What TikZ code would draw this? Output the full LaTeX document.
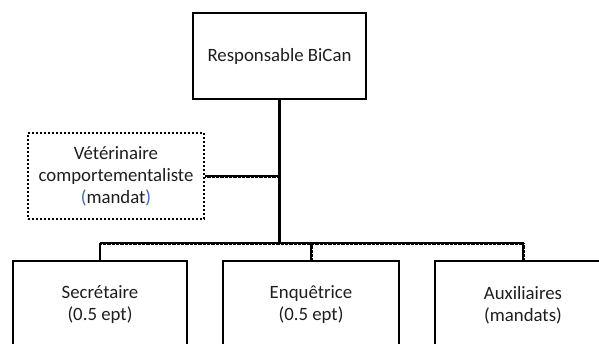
\documentclass[tikz,border=0pt]{standalone}
\usepackage{fontspec}
\setmainfont{Carlito}
\begin{document}
\definecolor{ink}{RGB}{30,30,30}
\definecolor{paren}{RGB}{70,105,170}
\begin{tikzpicture}[x=1pt,y=-1pt,
  font=\fontsize{18.8}{22}\selectfont,
  box/.style={draw=black,line width=2.8pt,fill=white,text=ink,align=center,
              inner sep=0pt,minimum width=#1},
  box/.default=175pt,
  dotbox/.style={draw=black,line width=2.4pt,dash pattern=on 2pt off 2pt,
                 fill=white,text=ink,align=center,inner sep=0pt,
                 minimum width=176pt,minimum height=86pt},
  solidlink/.style={draw=black,line width=2.8pt},
  hatchlink/.style={draw=black,line width=1.8pt,
                    postaction={draw=black,line width=3pt,dash pattern=on 0.8pt off 0.5pt}}
]
\useasboundingbox (0,0) rectangle (599,343);
\clip (0,0) rectangle (599,343);

% head of the unit
\node[box=173pt,minimum height=86pt] (head) at (279.5,56) {Responsable BiCan};

% advisory position
\node[dotbox] (vet) at (116,176)
  {Vétérinaire\\comportementaliste\\{\color{paren}(}mandat{\color{paren})}};

% staff
\node[box=174pt,minimum height=88pt] (sec) at (100,305) {Secrétaire\\(0.5 ept)};
\node[box=176pt,minimum height=88pt] (enq) at (311,305) {Enquêtrice\\(0.5 ept)};
\node[box=176pt,minimum height=88pt] (aux) at (523,305) {Auxiliaires\\(mandats)};

% junction on the distribution bar
\coordinate (j) at (head.south |- 0,243);

% connectors
\draw[solidlink] (head.south) -- (j);
\draw[hatchlink] (vet.east) -- (vet.east -| head.south);
\draw[hatchlink] (sec.north |- j) -- (aux.north |- j);
\draw[solidlink] (sec.north) -- (sec.north |- j);
\draw[hatchlink] (enq.north) -- (enq.north |- j);
\draw[hatchlink] (aux.north) -- (aux.north |- j);
\end{tikzpicture}
\end{document}
